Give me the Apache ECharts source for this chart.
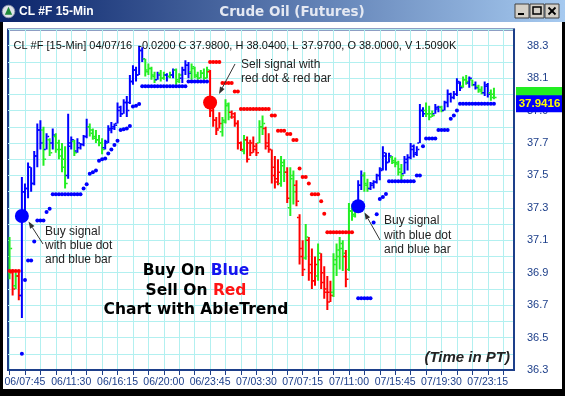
<!DOCTYPE html>
<html><head><meta charset="utf-8">
<script src="https://cdn.jsdelivr.net/npm/echarts@6/dist/echarts.min.js"></script>
<style>html,body{margin:0;padding:0;background:#fff;overflow:hidden}#c{width:565px;height:396px}</style>
</head><body><div id="c"></div>
<script>
// ---------- DATA ----------
const xTickLabels = ['06/07:45','06/11:30','06/16:15','06/20:00','06/23:45','07/03:30','07/07:15','07/11:00','07/15:45','07/19:30','07/23:15'];
const yTickLabels = ['36.3','36.5','36.7','36.9','37.1','37.3','37.5','37.7','37.9','38.1','38.3'];
const categoryCount = 164;

// bar colour code: B = blue (buy), G = green (neutral), R = red (sell)
const trend = ['GRGRBBBBBB','BGBGBGGGGB','BGBBBBGGGG','GBBBBBBBBB','BBBBGGGGBG',
               'GBGBGGBBBG','GGGGGRRRRG','GGRRRRGRRR','RGGRRRRRGG','RGGRRRGRRR',
               'GRRRRGGGGR','GGGBBGGBBB','BBBBGGGGBB','BBBBBGGGBB','GBBBBBBGGB','GBGGBBGG'].join('').split('');

const opens = [
36.90,36.90,36.82,36.88,36.76,37.40,37.42,37.55,37.45,37.62,
37.78,37.78,37.66,37.72,37.70,37.74,37.70,37.66,37.60,37.50,
37.68,37.71,37.65,37.67,37.69,37.74,37.80,37.78,37.74,37.72,
37.70,37.67,37.71,37.78,37.79,37.82,37.90,37.88,37.95,37.95,
38.08,38.15,38.12,38.27,38.22,38.15,38.16,38.12,38.09,38.13,
38.10,38.12,38.11,38.12,38.15,38.09,38.10,38.15,38.18,38.14,
38.16,38.12,38.10,38.13,38.10,38.14,37.90,37.84,37.79,37.77,
37.84,37.93,37.89,37.88,37.82,37.70,37.65,37.72,37.70,37.70,
37.68,37.70,37.80,37.79,37.70,37.66,37.55,37.48,37.45,37.56,
37.52,37.30,37.48,37.44,37.24,37.05,36.99,37.10,36.95,36.85,
36.88,36.98,36.90,36.80,36.78,36.78,36.95,37.00,37.05,37.00,
36.92,37.28,37.26,37.31,37.44,37.50,37.45,37.42,37.44,37.46,
37.50,37.54,37.62,37.58,37.61,37.59,37.58,37.54,37.51,37.58,
37.61,37.66,37.63,37.70,37.90,37.90,37.88,37.88,37.88,37.91,
37.92,37.90,37.95,38.00,37.98,38.00,38.07,38.05,38.09,38.07,
38.09,38.06,38.05,38.03,38.01,38.05,38.01,38.00];
const highs = [
37.12,36.92,36.90,36.91,37.49,37.45,37.58,37.55,37.65,37.82,
37.84,37.80,37.76,37.73,37.79,37.76,37.72,37.70,37.68,37.88,
37.74,37.72,37.73,37.70,37.75,37.85,37.82,37.79,37.78,37.75,
37.73,37.72,37.81,37.83,37.82,37.95,37.93,37.97,37.99,38.12,
38.18,38.17,38.30,38.29,38.22,38.19,38.17,38.14,38.14,38.15,
38.14,38.13,38.14,38.16,38.16,38.13,38.17,38.21,38.20,38.19,
38.17,38.14,38.15,38.16,38.17,38.15,37.93,37.86,37.89,37.86,
37.97,37.95,37.90,37.89,37.84,37.71,37.75,37.74,37.72,37.74,
37.70,37.84,37.87,37.80,37.76,37.66,37.62,37.60,37.62,37.60,
37.55,37.55,37.53,37.47,37.26,37.10,37.20,37.12,37.05,37.00,
37.08,37.02,36.94,36.88,36.85,37.02,37.08,37.12,37.10,37.04,
37.33,37.32,37.33,37.47,37.53,37.52,37.48,37.46,37.47,37.51,
37.55,37.68,37.64,37.64,37.62,37.61,37.59,37.57,37.62,37.63,
37.70,37.69,37.68,37.94,37.92,37.95,37.93,37.90,37.94,37.93,
37.93,37.96,38.03,38.01,38.02,38.10,38.08,38.11,38.12,38.11,
38.09,38.08,38.06,38.05,38.08,38.07,38.03,38.04];
const lows = [
36.86,36.76,36.80,36.73,36.62,37.28,37.36,37.40,37.44,37.55,
37.66,37.56,37.66,37.62,37.66,37.64,37.60,37.52,37.42,37.48,
37.66,37.62,37.64,37.66,37.68,37.73,37.74,37.72,37.70,37.68,
37.63,37.66,37.70,37.76,37.78,37.82,37.86,37.88,37.86,37.94,
38.06,38.08,38.12,38.20,38.11,38.12,38.09,38.07,38.09,38.08,
38.09,38.08,38.10,38.10,38.06,38.07,38.07,38.12,38.10,38.09,
38.10,38.09,38.10,38.09,38.10,37.86,37.80,37.75,37.79,37.74,
37.82,37.84,37.85,37.80,37.66,37.65,37.63,37.58,37.62,37.64,
37.62,37.70,37.75,37.66,37.64,37.45,37.42,37.44,37.43,37.46,
37.33,37.25,37.32,37.31,36.95,36.88,36.98,36.85,36.80,36.82,
36.85,36.80,36.74,36.67,36.72,36.75,36.88,36.92,36.91,36.81,
36.91,37.22,37.24,37.30,37.41,37.40,37.40,37.41,37.42,37.45,
37.47,37.53,37.53,37.58,37.57,37.55,37.50,37.47,37.51,37.53,
37.60,37.61,37.62,37.70,37.86,37.86,37.84,37.86,37.88,37.89,
37.89,37.90,37.92,37.95,37.97,37.99,38.02,38.04,38.06,38.04,
38.05,38.03,38.01,38.00,37.99,37.98,37.96,37.97];
const closes = [
37.05,36.80,36.88,36.76,37.40,37.42,37.55,37.45,37.62,37.78,
37.70,37.60,37.74,37.64,37.75,37.66,37.62,37.55,37.45,37.70,
37.72,37.64,37.70,37.69,37.74,37.80,37.76,37.73,37.72,37.70,
37.66,37.70,37.79,37.80,37.81,37.92,37.88,37.95,37.90,38.08,
38.15,38.12,38.27,38.22,38.14,38.16,38.11,38.09,38.12,38.10,
38.12,38.11,38.12,38.15,38.08,38.12,38.15,38.18,38.13,38.17,
38.11,38.10,38.13,38.10,38.15,37.90,37.84,37.78,37.82,37.83,
37.94,37.86,37.86,37.82,37.70,37.66,37.72,37.60,37.64,37.66,
37.64,37.80,37.82,37.68,37.66,37.50,37.46,37.52,37.58,37.52,
37.36,37.50,37.40,37.34,37.00,36.92,37.12,36.90,36.85,36.95,
37.02,36.84,36.78,36.72,36.76,36.98,37.04,37.08,37.02,36.86,
37.28,37.25,37.30,37.44,37.50,37.44,37.42,37.45,37.46,37.50,
37.53,37.64,37.58,37.62,37.58,37.57,37.52,37.50,37.60,37.61,
37.68,37.64,37.66,37.90,37.88,37.88,37.86,37.87,37.92,37.92,
37.90,37.95,38.00,37.98,38.00,38.08,38.04,38.09,38.08,38.10,
38.06,38.04,38.02,38.01,38.06,38.00,37.98,37.98];

// AbleTrend stop dots (price per bar, null = none) and their colour code
const stopPrice = [
36.91,36.91,36.91,36.91,36.40,36.855,36.975,36.975,37.093,37.222,
37.222,37.222,37.274,37.295,37.384,37.384,37.384,37.384,37.384,37.384,
37.384,37.384,37.384,37.384,37.419,37.446,37.51,37.52,37.53,37.59,
37.60,37.605,37.635,37.66,37.687,37.714,37.78,37.785,37.79,37.805,
37.925,37.93,37.94,38.05,38.05,38.05,38.05,38.05,38.05,38.05,
38.05,38.05,38.05,38.05,38.05,38.05,38.05,38.05,38.08,38.08,
38.08,38.08,38.08,38.08,38.08,38.20,38.20,38.20,38.20,38.07,
38.07,38.07,38.07,38.017,38.017,37.91,37.91,37.91,37.91,37.91,
37.91,37.91,37.91,37.91,37.91,37.869,37.869,37.776,37.776,37.776,
37.755,37.755,37.718,37.718,37.543,37.49,37.49,37.45,37.384,37.384,
37.384,37.34,37.264,37.15,37.15,37.15,37.15,37.15,37.15,37.15,
37.15,37.15,null,36.742,36.742,36.742,36.742,36.742,37.21,37.26,
37.355,37.367,37.386,37.464,37.464,37.464,37.464,37.464,37.464,37.464,
37.464,37.464,37.50,37.50,37.68,37.728,37.728,37.728,37.728,37.78,
37.78,37.78,37.78,37.85,37.87,37.90,37.9416,37.9416,37.9416,37.9416,
37.9416,37.9416,37.9416,37.9416,37.9416,37.9416,37.9416,37.9416];
const stopTrend = ['RRRR','BBBBBBBBBB','BBBBBBBBBB','BBBBBBBBBB','BBBBBBBBBB','BBBBBBBBBB','BBBBBBBBBB','B',
                   'RRRRRRRRRR','RRRRRRRRRR','RRRRRRRRRR','RRRRRRRRRR','RRRRRRR','-',
                   'BBBBBBBBBB','BBBBBBBBBB','BBBBBBBBBB','BBBBBBBBBB','BBBBB'].join('').split('');

const signalIdx = [4, 65, 113];
const signalPrice = [37.25, 37.95, 37.31];
const signalTrend = ['B', 'R', 'B'];

const lastClose = 37.98;
const lastStop = 37.9416;
const headerText = 'CL #F [15-Min] 04/07/16  -0.0200 C 37.9800, H 38.0400, L 37.9700, O 38.0000, V 1.5090K';

// ---------- CHART ----------
const colorMap = {B: '#0000ff', G: '#22ee22', R: '#ff0000'};
const axisColor = '#1d3f8a';
const gridColor = '#b2f0f0';

function pad(n) { return (n < 10 ? '0' : '') + n; }
const categories = [];
(function () {
  let d = 6, h = 6, m = 30;
  for (let i = 0; i < categoryCount; i++) {
    categories.push(pad(d) + '/' + pad(h) + ':' + pad(m));
    m += 15;
    if (m === 60) { m = 0; h++; }
    if (h === 14 && m === 0) { h = 15; }
    if (h === 24) { h = 0; d++; }
  }
})();

const barData = opens.map((o, i) => [i, o, highs[i], lows[i], closes[i]]);
const stopData = [];
stopPrice.forEach((p, i) => { if (p !== null) stopData.push([i, p, stopTrend[i]]); });
const signalData = signalIdx.map((s, k) => [s, signalPrice[k], signalTrend[k]]);

function arrow(x1, y1, x2, y2) {
  const a = Math.atan2(y2 - y1, x2 - x1), L = 7, W = 2.6;
  const bx = x2 - L * Math.cos(a), by = y2 - L * Math.sin(a);
  const px = -Math.sin(a), py = Math.cos(a);
  return [
    {type: 'line', z: 60, shape: {x1: x1, y1: y1, x2: bx, y2: by}, style: {stroke: '#333', lineWidth: 1}},
    {type: 'polygon', z: 60, shape: {points: [[x2, y2], [bx + px * W, by + py * W], [bx - px * W, by - py * W]]}, style: {fill: '#333'}}
  ];
}
function label(x, y, text, font, fill, align) {
  return {type: 'text', z: 60, x: x, y: y, style: {text: text, font: font, fill: fill || '#222', textAlign: align || 'left', textVerticalAlign: 'middle'}};
}

const chart = echarts.init(document.getElementById('c'), null, {renderer: 'canvas'});
const annFont = '12px "Liberation Sans", Arial, sans-serif';

const graphics = [
  // title bar
  {type: 'rect', z: 50, shape: {x: 0, y: 0, width: 565, height: 22},
   style: {fill: new echarts.graphic.LinearGradient(0, 0, 1, 0, [{offset: 0, color: '#0a246a'}, {offset: 1, color: '#a6caf0'}])}},
  {type: 'circle', z: 51, shape: {cx: 8.5, cy: 11.5, r: 6.3}, style: {fill: '#dfe3ea', stroke: '#8a93a8', lineWidth: 0.8}},
  {type: 'polygon', z: 52, shape: {points: [[8.5, 6.8], [4.8, 14.8], [12.2, 14.8]]}, style: {fill: '#1f8a3a'}},
  label(19, 11.5, 'CL #F 15-Min', 'bold 12px "Liberation Sans", Arial, sans-serif', '#ffffff'),
  label(292, 12.5, 'Crude Oil (Futures)', 'bold 13.5px "DejaVu Sans", sans-serif', '#e4e8f2', 'center'),
  // window buttons
  {type: 'rect', z: 51, shape: {x: 515, y: 4, width: 14, height: 14}, style: {fill: '#d4d0c8', stroke: '#404040', lineWidth: 1}},
  {type: 'rect', z: 52, shape: {x: 518, y: 13, width: 6, height: 2}, style: {fill: '#000'}},
  {type: 'rect', z: 51, shape: {x: 530, y: 4, width: 14, height: 14}, style: {fill: '#d4d0c8', stroke: '#404040', lineWidth: 1}},
  {type: 'rect', z: 52, shape: {x: 533, y: 7, width: 8, height: 7}, style: {fill: 'none', stroke: '#000', lineWidth: 1.5}},
  {type: 'rect', z: 51, shape: {x: 545, y: 4, width: 14, height: 14}, style: {fill: '#d4d0c8', stroke: '#404040', lineWidth: 1}},
  {type: 'line', z: 52, shape: {x1: 548.5, y1: 7.5, x2: 555.5, y2: 14.5}, style: {stroke: '#000', lineWidth: 1.8}},
  {type: 'line', z: 52, shape: {x1: 555.5, y1: 7.5, x2: 548.5, y2: 14.5}, style: {stroke: '#000', lineWidth: 1.8}},
  // window frame
  {type: 'rect', z: 50, shape: {x: 0, y: 22, width: 3, height: 374}, style: {fill: '#000'}},
  {type: 'rect', z: 50, shape: {x: 562, y: 22, width: 3, height: 374}, style: {fill: '#000'}},
  {type: 'rect', z: 50, shape: {x: 0, y: 389, width: 565, height: 7}, style: {fill: '#000'}},
  // header in plot
  label(13.5, 46, headerText, '11px "Liberation Sans", Arial, sans-serif', '#111'),
  // annotations
  label(45, 231.5, 'Buy signal', annFont), label(45, 245.5, 'with blue dot', annFont), label(45, 259.5, 'and blue bar', annFont),
  label(241, 65, 'Sell signal with', annFont), label(241, 79, 'red dot & red bar', annFont),
  label(384, 221, 'Buy signal', annFont), label(384, 235.5, 'with blue dot', annFont), label(384, 249.5, 'and blue bar', annFont),
  ...arrow(43, 244, 28.5, 221.5),
  ...arrow(235, 64, 219, 94),
  ...arrow(380, 240, 364.5, 212.5),
  // slogan
  {type: 'text', z: 60, x: 196, y: 271, style: {text: '{k|Buy On }{b|Blue}', textAlign: 'center', textVerticalAlign: 'middle',
    rich: {k: {font: 'bold 15.5px "DejaVu Sans", sans-serif', fill: '#000'}, b: {font: 'bold 15.5px "DejaVu Sans", sans-serif', fill: '#1414f0'}}}},
  {type: 'text', z: 60, x: 196, y: 290.5, style: {text: '{k|Sell On }{r|Red}', textAlign: 'center', textVerticalAlign: 'middle',
    rich: {k: {font: 'bold 15.5px "DejaVu Sans", sans-serif', fill: '#000'}, r: {font: 'bold 15.5px "DejaVu Sans", sans-serif', fill: '#ff1414'}}}},
  label(196, 309.5, 'Chart with AbleTrend', 'bold 15.5px "DejaVu Sans", sans-serif', '#000', 'center'),
  label(510, 357.5, '(Time in PT)', 'italic bold 15px "Liberation Sans", Arial, sans-serif', '#222', 'right')
];

chart.setOption({
  animation: false,
  backgroundColor: '#ffffff',
  grid: {left: 8, right: 51, top: 29.5, bottom: 26, show: true, borderColor: axisColor, borderWidth: 2, backgroundColor: '#fff', outerBoundsMode: 'none'},
  xAxis: {
    type: 'category', data: categories, boundaryGap: true,
    axisLine: {show: true, lineStyle: {color: axisColor, width: 2}},
    axisTick: {show: true, alignWithLabel: true, interval: (i) => i % 5 === 0, length: 5, lineStyle: {color: axisColor, width: 1}},
    axisLabel: {interval: (i, v) => xTickLabels.indexOf(v) >= 0, color: axisColor, fontSize: 10.5, fontFamily: '"Liberation Sans", Arial, sans-serif', margin: 7},
    splitLine: {show: true, alignWithLabel: true, interval: (i) => i % 5 === 0, lineStyle: {color: gridColor, width: 1}}
  },
  yAxis: {
    type: 'value', position: 'right', min: 36.3, max: 38.4, interval: 0.1, scale: true,
    axisLine: {show: true, lineStyle: {color: axisColor, width: 2}},
    axisTick: {show: false},
    axisLabel: {color: axisColor, fontSize: 11, fontFamily: '"Liberation Sans", Arial, sans-serif', margin: 13,
      formatter: (v) => yTickLabels.indexOf(v.toFixed(1)) >= 0 ? v.toFixed(1) : ''},
    splitLine: {show: true, lineStyle: {color: gridColor, width: 1}}
  },
  graphic: {elements: graphics},
  series: [
    {
      type: 'custom', name: 'bars', z: 2, clip: true,
      encode: {x: 0, y: [1, 2, 3, 4]},
      data: barData,
      renderItem: function (params, api) {
        const i = api.value(0);
        const o = api.coord([i, api.value(1)]);
        const h = api.coord([i, api.value(2)]);
        const l = api.coord([i, api.value(3)]);
        const c = api.coord([i, api.value(4)]);
        const col = colorMap[trend[params.dataIndex]];
        const x = h[0];
        return {type: 'group', children: [
          {type: 'rect', shape: {x: x - 1, y: h[1], width: 2, height: Math.max(1.5, l[1] - h[1])}, style: {fill: col}},
          {type: 'rect', shape: {x: x - 2.6, y: o[1] - 0.75, width: 1.8, height: 1.5}, style: {fill: col}},
          {type: 'rect', shape: {x: x + 0.8, y: c[1] - 0.75, width: 1.8, height: 1.5}, style: {fill: col}}
        ]};
      }
    },
    {
      type: 'scatter', name: 'stops', z: 3, symbol: 'circle', symbolSize: 4,
      data: stopData,
      itemStyle: {color: (p) => colorMap[p.data[2]], opacity: 1},
      silent: true
    },
    {
      type: 'scatter', name: 'signals', z: 4, symbol: 'circle', symbolSize: 14,
      data: signalData,
      itemStyle: {color: (p) => colorMap[p.data[2]], opacity: 1},
      silent: true
    }
  ]
});

// right-side price markers placed through the y scale
const yClose = chart.convertToPixel({yAxisIndex: 0}, lastClose);
const yStop = chart.convertToPixel({yAxisIndex: 0}, lastStop);
chart.setOption({graphic: {elements: graphics.concat([
  {type: 'rect', z: 70, shape: {x: 516, y: yClose - 8.5 - 2, width: 46, height: 17}, style: {fill: '#22ee22'}},
  label(539, yClose - 2, lastClose.toFixed(4), 'bold 11px "Liberation Sans", Arial, sans-serif', '#ff00ff', 'center'),
  {type: 'rect', z: 71, shape: {x: 516, y: yStop - 8.5, width: 46, height: 17}, style: {fill: '#0000ff'}},
  Object.assign(label(539.5, yStop, lastStop.toFixed(4), 'bold 11.5px "Liberation Sans", Arial, sans-serif', '#ffff00', 'center'), {z: 72})
])}});
</script>
</body></html>
